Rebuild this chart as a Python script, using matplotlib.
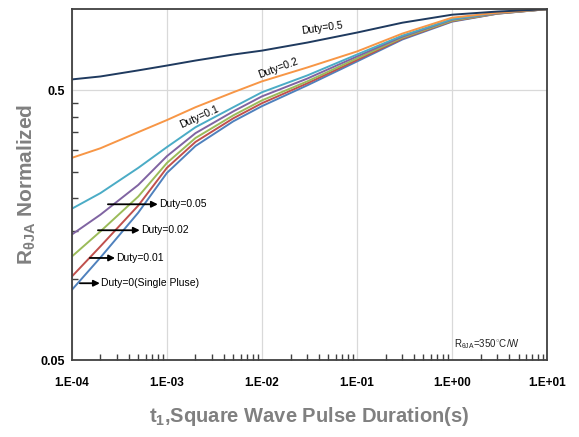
"""Transient thermal impedance curves (normalized R_thetaJA vs pulse width)"""

import matplotlib
matplotlib.use("Agg")
import matplotlib.pyplot as plt
from matplotlib.ticker import FixedLocator, NullFormatter

plt.rcParams["font.family"] = ["Liberation Sans", "DejaVu Sans"]
plt.rcParams["mathtext.fontset"] = "custom"
plt.rcParams["mathtext.rm"] = "Liberation Sans"
plt.rcParams["mathtext.bf"] = "Liberation Sans:bold"
plt.rcParams["mathtext.default"] = "bf"

# pulse durations (s)
pulse_t = [1e-4, 2e-4, 5e-4, 1e-3, 2e-3, 5e-3, 1e-2, 3e-2, 1e-1, 3e-1, 1, 3, 10]

duty_single = [0.091, 0.120, 0.176, 0.247, 0.311, 0.384, 0.437, 0.522, 0.640, 0.772, 0.899, 0.962, 1.0]
duty_001 = [0.102, 0.132, 0.187, 0.258, 0.322, 0.394, 0.448, 0.531, 0.648, 0.778, 0.903, 0.963, 1.0]
duty_002 = [0.121, 0.150, 0.202, 0.269, 0.333, 0.404, 0.459, 0.540, 0.657, 0.784, 0.907, 0.964, 1.0]
duty_005 = [0.146, 0.173, 0.223, 0.285, 0.347, 0.418, 0.475, 0.553, 0.668, 0.791, 0.914, 0.966, 1.0]
duty_01 = [0.182, 0.208, 0.258, 0.308, 0.365, 0.433, 0.492, 0.568, 0.679, 0.798, 0.918, 0.970, 1.0]
duty_02 = [0.281, 0.305, 0.350, 0.388, 0.433, 0.492, 0.540, 0.608, 0.697, 0.812, 0.930, 0.970, 1.0]
duty_05 = [0.549, 0.563, 0.593, 0.618, 0.645, 0.679, 0.702, 0.752, 0.819, 0.891, 0.954, 0.980, 1.0]

series = [duty_single, duty_001, duty_002, duty_005, duty_01, duty_02, duty_05]
colors = ["#4F81BD", "#C0504D", "#9BBB59", "#8064A2", "#4BACC6", "#F79646", "#1F3A5F"]

x_ticks = [1e-4, 1e-3, 1e-2, 1e-1, 1, 10]
x_labels = ["1.E-04", "1.E-03", "1.E-02", "1.E-01", "1.E+00", "1.E+01"]

fig = plt.figure(figsize=(5.79, 4.37), dpi=100)
ax = fig.add_axes([0.124, 0.176, 0.821, 0.803])

for vals, col in zip(series, colors):
    ax.plot(pulse_t, vals, color=col, lw=1.4)

ax.set_xscale("log")
ax.set_yscale("log")
ax.set_xlim(1e-4, 10)
ax.set_ylim(0.05, 1.0)

ax.set_xticks(x_ticks)
ax.set_xticklabels(x_labels, fontsize=8.5, fontweight="bold")
ax.set_yticks([0.05, 0.5])
ax.set_yticklabels(["0.05", "0.5"], fontsize=9, fontweight="bold")
ax.yaxis.set_minor_locator(FixedLocator([0.05 * k for k in range(2, 10)]))
ax.yaxis.set_minor_formatter(NullFormatter())
ax.xaxis.set_minor_formatter(NullFormatter())

ax.tick_params(which="major", length=0, pad=12)
ax.tick_params(axis="y", which="major", pad=5)
ax.tick_params(which="minor", direction="in", length=4, width=1, color="#404040")
ax.tick_params(axis="x", which="minor", bottom=True)

ax.grid(True, which="major", color="#d9d9d9", lw=0.9)
ax.set_axisbelow(True)
for sp in ax.spines.values():
    sp.set_color("#404040")
    sp.set_linewidth(1.3)

ax.set_xlabel(r"t$_1$,Square Wave Pulse Duration(s)", fontsize=14.5,
              fontweight="bold", color="#808080", labelpad=12)
ax.set_ylabel(r"R$_{\theta JA}$ Normalized", fontsize=15,
              fontweight="bold", color="#808080", labelpad=2)

# curve labels along the lines
ax.text(0.526, 0.946, "Duty=0.5", transform=ax.transAxes, fontsize=7.5,
        rotation=8, ha="center", va="center")
ax.text(0.434, 0.832, "Duty=0.2", transform=ax.transAxes, fontsize=7.5,
        rotation=20, ha="center", va="center")
ax.text(0.269, 0.692, "Duty=0.1", transform=ax.transAxes, fontsize=7.5,
        rotation=24, ha="center", va="center")

# arrow labels for the low duty curves
arrow_labels = [
    ("Duty=0.05", 0.076, 0.181, 0.444),
    ("Duty=0.02", 0.055, 0.143, 0.370),
    ("Duty=0.01", 0.038, 0.091, 0.291),
    ("Duty=0(Single Pluse)", 0.017, 0.059, 0.219),
]
for txt, x0, x1, yy in arrow_labels:
    ax.annotate("", xy=(x1, yy), xytext=(x0, yy), xycoords="axes fraction",
                arrowprops=dict(arrowstyle="-|>", color="black", lw=1.3,
                                mutation_scale=9, shrinkA=0, shrinkB=0))
    ax.text(x1 + 0.003, yy, txt, transform=ax.transAxes, fontsize=7.5,
            ha="left", va="center")

ax.text(0.874, 0.045, r"R$\mathrm{_{\theta JA}}$=350$^{\circ}$C/W",
        transform=ax.transAxes, fontsize=7, fontweight="normal",
        ha="center", va="center", color="#202020")

fig.savefig("out.png", dpi=100)
